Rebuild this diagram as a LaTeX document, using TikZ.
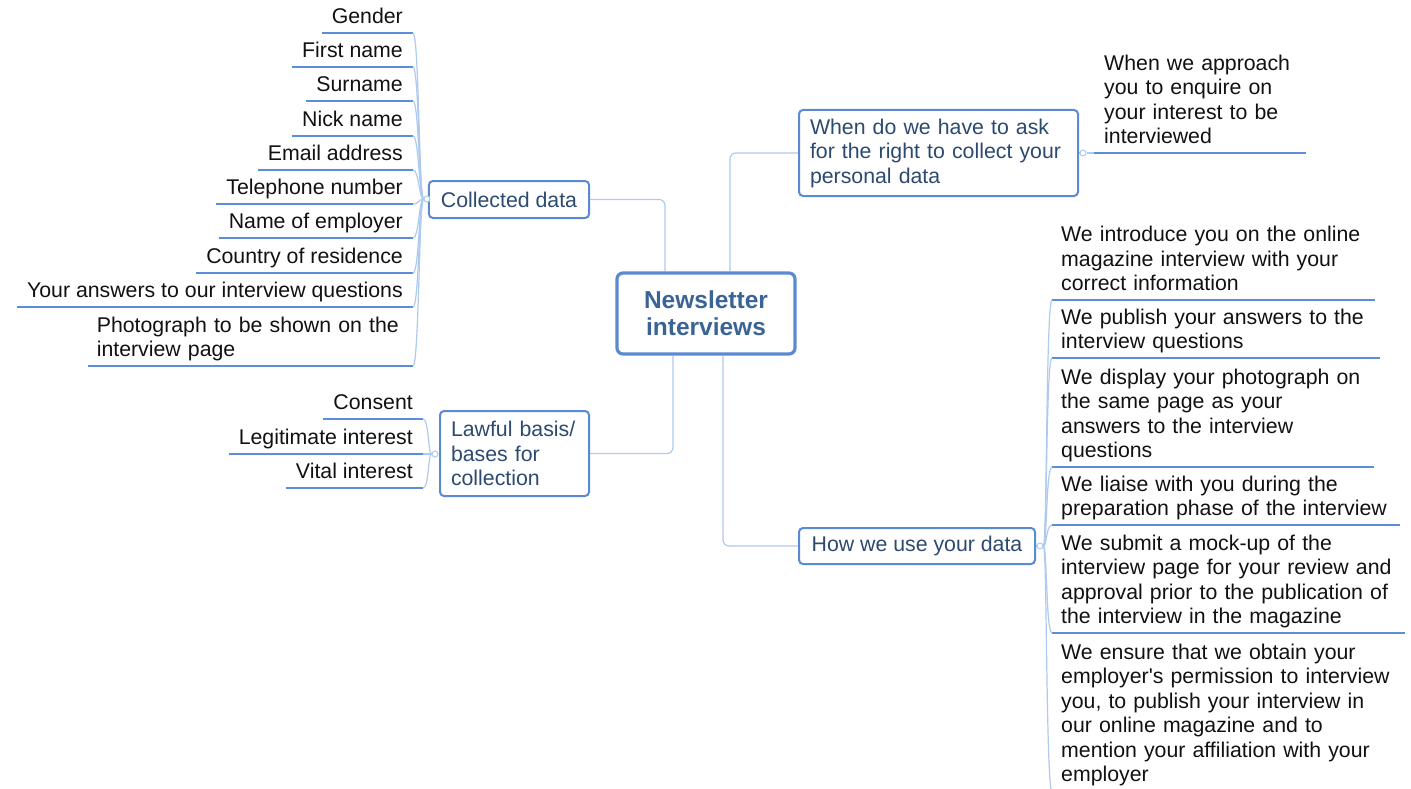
\documentclass[tikz,border=0pt]{standalone}
\usepackage{fontspec}
\setmainfont{Liberation Sans}
\usetikzlibrary{backgrounds}
\definecolor{bordc}{HTML}{5A8AD2}
\definecolor{ulc}{HTML}{5B8DD8}
\definecolor{connc}{HTML}{AECAEE}
\definecolor{boxtxt}{HTML}{2C4A70}
\definecolor{maintxt}{HTML}{3A6396}
\definecolor{leaftxt}{HTML}{111111}
\hfuzz=20pt
\hyphenpenalty=10000
\exhyphenpenalty=10000
\tikzset{
  basefont/.style={font=\fontsize{21.3}{24.5}\selectfont},
  mainbox/.style={draw=bordc, line width=3.2pt, rounded corners=6pt, fill=white,
    font=\fontsize{24.5}{27}\selectfont\bfseries, text=maintxt, align=center,
    minimum width=178pt, minimum height=81pt, inner sep=0pt},
  subbox/.style={draw=bordc, line width=2pt, rounded corners=4pt, fill=white,
    basefont, text=boxtxt, inner xsep=12pt, inner ysep=0pt},
  leafl/.style={basefont, text=leaftxt, inner xsep=10pt, inner ysep=9pt, text depth=0pt, anchor=south east},
  leafr/.style={basefont, text=leaftxt, inner xsep=9pt, inner ysep=9pt, anchor=south west, align=left},
  uline/.style={draw=ulc, line width=2pt},
  conn/.style={draw=connc, line width=1.2pt},
  jn/.style={circle, draw=connc, line width=1pt, fill=white, minimum size=6pt, inner sep=0pt},
}
\begin{document}
\begin{tikzpicture}[x=1pt, y=-1pt]
\useasboundingbox (0,0) rectangle (1411,789);
\clip (0,0) rectangle (1411,789);

% central and branch boxes
\node[mainbox] (nl) at (706,313.5) {Newsletter\\interviews};
\node[subbox, minimum width=160pt, minimum height=37pt] (cd) at (509,199.5) {Collected data};
\node[subbox, inner xsep=11pt, minimum width=149pt, minimum height=85pt, text width=127pt, align=left] (lb) at (514.5,453.5) {Lawful basis/\\bases for\\collection};
\node[subbox, inner xsep=11pt, minimum width=279pt, minimum height=86pt, text width=257pt, align=left] (wd) at (938.5,153) {When do we have to ask\\for the right to collect your\\personal data};
\node[subbox, minimum width=236pt, minimum height=36pt] (hw) at (917,546) {How we use your data};

% junctions
\node[jn] (jc) at (427,199) {};
\node[jn] (jl) at (435,454) {};
\node[jn] (jt) at (1083,153) {};
\node[jn] (jh) at (1040,546) {};

% collected data leaves
\node[leafl] (c1) at (413,33) {Gender};
\node[leafl] (c2) at (413,67) {First name};
\node[leafl] (c3) at (413,101) {Surname};
\node[leafl] (c4) at (413,136) {Nick name};
\node[leafl] (c5) at (413,170) {Email address};
\node[leafl] (c6) at (413,204) {Telephone number};
\node[leafl] (c7) at (413,238) {Name of employer};
\node[leafl] (c8) at (413,273) {Country of residence};
\node[leafl] (c9) at (413,307) {Your answers to our interview questions};
\node[leafl, inner xsep=9pt, text width=307pt, align=left, text depth=24.5pt] (c10) at (413,366) {Photograph to be shown on the\\interview page};

% lawful basis leaves
\node[leafl] (l1) at (423,419) {Consent};
\node[leafl] (l2) at (423,454) {Legitimate interest};
\node[leafl] (l3) at (423,488) {Vital interest};

% top right leaf
\node[leafr, inner xsep=10pt, text width=192pt, text depth=73.5pt] (t1) at (1094,153) {When we approach\\you to enquire on\\your interest to be\\interviewed};

% how we use leaves
\node[leafr, text width=305pt, text depth=49pt] (r1) at (1052,300) {We introduce you on the online\\magazine interview with your\\correct information};
\node[leafr, text width=310pt, text depth=24.5pt] (r2) at (1052,358) {We publish your answers to the\\interview questions};
\node[leafr, text width=304pt, text depth=73.5pt] (r3) at (1052,467) {We display your photograph on\\the same page as your\\answers to the interview\\questions};
\node[leafr, text width=330pt, text depth=24.5pt] (r4) at (1052,525) {We liaise with you during the\\preparation phase of the interview};
\node[leafr, text width=335pt, text depth=73.5pt] (r5) at (1052,633) {We submit a mock-up of the\\interview page for your review and\\approval prior to the publication of\\the interview in the magazine};
\node[leafr, text width=335pt, text depth=122.5pt] (r6) at (1052,791) {We ensure that we obtain your\\employer\textquotesingle s permission to interview\\you, to publish your interview in\\our online magazine and to\\mention your affiliation with your\\employer};

\begin{scope}[on background layer]
  % main connectors
  \draw[conn, rounded corners=6pt] (cd.east) -| ([xshift=-41pt]nl.north);
  \draw[conn, rounded corners=6pt] (wd.west) -| ([xshift=24pt]nl.north);
  \draw[conn, rounded corners=6pt] (lb.east) -| ([xshift=-33pt]nl.south);
  \draw[conn, rounded corners=6pt] (hw.west) -| ([xshift=17pt]nl.south);
  % box to junction
  \draw[conn] (cd.west) -- (jc);
  \draw[conn] (lb.west) -- (jl);
  \draw[conn] (wd.east) -- (jt);
  \draw[conn] (hw.east) -- (jh);
  % underlines
  \foreach \n in {c1,c2,c3,c4,c5,c6,c7,c8,c9,c10,l1,l2,l3,t1,r1,r2,r3,r4,r5}
    \draw[uline] (\n.south west) -- (\n.south east);
  % fans
  \foreach \n in {c1,c2,c3,c4,c5,c6,c7,c8,c9,c10}
    \draw[conn] (\n.south east) .. controls +(6,0) and +(-8,0) .. (jc);
  \foreach \n in {l1,l2,l3}
    \draw[conn] (\n.south east) .. controls +(6,0) and +(-7,0) .. (jl);
  \foreach \n in {r1,r2,r3,r4,r5,r6}
    \draw[conn] (jh) .. controls +(7,0) and +(-6,0) .. (\n.south west);
  \draw[conn] (jt) -- (t1.south west);
\end{scope}
\end{tikzpicture}
\end{document}
